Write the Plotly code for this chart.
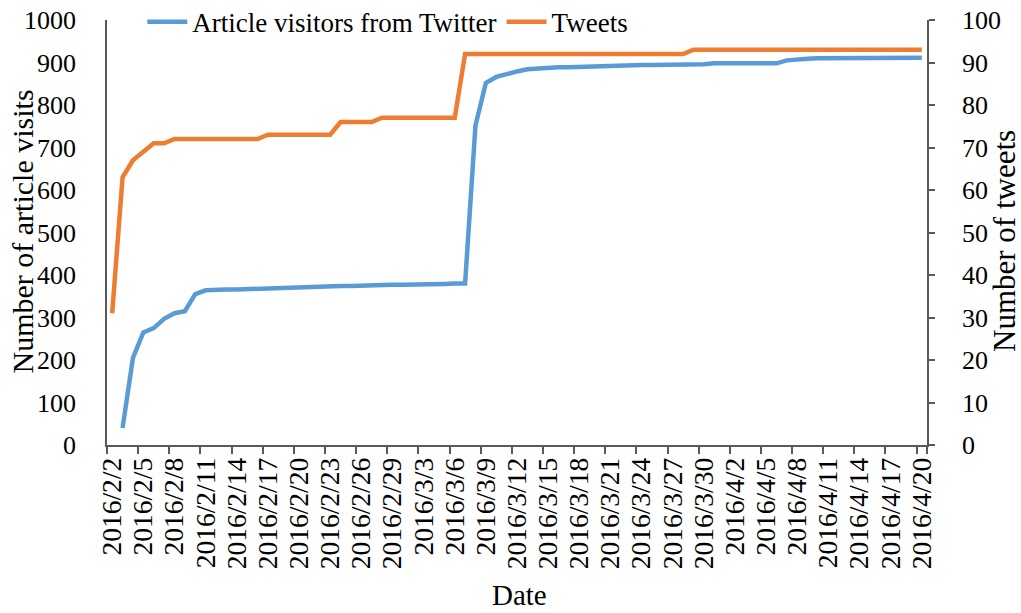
import datetime as dt
import plotly.graph_objects as go

start = dt.date(2016, 2, 2)
dates = [f"{d.year}/{d.month}/{d.day}" for d in (start + dt.timedelta(days=i) for i in range(79))]

visitors = [None, 40, 205, 265, 275, 297, 310, 315, 355, 364,
            366, 366, 366, 367, 368, 368, 369, 370, 372, 372,
            372, 373, 374, 374, 375, 377, 377, 377, 377, 377,
            378, 378, 379, 380, 380, 752, 852, 866, 873, 879,
            884, 886, 888, 889, 889, 890, 890, 891, 892, 893,
            894, 894, 894, 894, 894, 894, 894, 896, 898, 898,
            898, 898, 898, 898, 898, 905, 908, 909, 910, 910,
            910, 910, 910, 910, 910, 911, 911, 911, 911]

tweets = [31, 63, 67, 69, 71, 71, 72, 72, 72, 72,
          72, 72, 72, 72, 72, 73, 73, 73, 73, 73,
          73, 73, 76, 76, 76, 76, 77, 77, 77, 77,
          77, 77, 77, 77, 92, 92, 92, 92, 92, 92,
          92, 92, 92, 92, 92, 92, 92, 92, 92, 92,
          92, 92, 92, 92, 92, 92, 93, 93, 93, 93,
          93, 93, 93, 93, 93, 93, 93, 93, 93, 93,
          93, 93, 93, 93, 93, 93, 93, 93, 93]

tick_labels = dates[::3]

FONT = "Liberation Serif"
AX = "#595959"

fig = go.Figure()
fig.add_trace(go.Scatter(x=dates, y=visitors, name="Article visitors from Twitter",
                         mode="lines", line=dict(color="#5B9BD5", width=4.5), yaxis="y"))
fig.add_trace(go.Scatter(x=dates, y=tweets, name="Tweets",
                         mode="lines", line=dict(color="#ED7D31", width=4.5), yaxis="y2"))

fig.update_layout(
    width=1021, height=613,
    margin=dict(l=107, r=94, t=20, b=168, autoexpand=False),
    plot_bgcolor="white", paper_bgcolor="white",
    font=dict(family=FONT, size=26, color="black"),
    showlegend=True,
    legend=dict(orientation="h", x=0.043, y=0.995, xanchor="left", yanchor="middle",
                bgcolor="rgba(0,0,0,0)", font=dict(size=27), itemwidth=40,
                tracegroupgap=0),
    xaxis=dict(type="category", categoryorder="array", categoryarray=dates,
               range=[-0.5, 78.5], tickmode="array", tickvals=tick_labels,
               tickson="boundaries", ticks="outside", ticklen=7, tickcolor=AX,
               tickwidth=1.5, showline=True, linecolor=AX, linewidth=1.5,
               showgrid=False, tickangle=-90, tickfont=dict(size=27.5),
               zeroline=False, automargin=False),
    yaxis=dict(range=[0, 1000], dtick=100, tick0=0, showline=True, linecolor=AX,
               linewidth=1.5, ticks="", showgrid=False, zeroline=False,
               tickfont=dict(size=26), ticklabelstandoff=24, automargin=False),
    yaxis2=dict(range=[0, 100], dtick=10, tick0=0, overlaying="y", side="right",
                showline=True, linecolor=AX, linewidth=1.5, ticks="outside",
                ticklen=6, tickcolor=AX, tickwidth=1.5, showgrid=False,
                zeroline=False, tickfont=dict(size=26), ticklabelstandoff=22,
                automargin=False),
    annotations=[
        dict(text="Number of article visits", x=22, y=231.5, xref="paper", yref="paper",
             xanchor="center", yanchor="middle",
             showarrow=False, textangle=-90, font=dict(size=30)),
        dict(text="Number of tweets", x=1004, y=241, xref="paper", yref="paper",
             xanchor="center", yanchor="middle",
             showarrow=False, textangle=-90, font=dict(size=31)),
        dict(text="Date", x=519, y=595, xref="paper", yref="paper",
             xanchor="center", yanchor="middle",
             showarrow=False, font=dict(size=29)),
    ],
)

# convert pixel positions of the axis titles into paper coordinates
pl, pr, pt, pb = 107, 927, 20, 445
for a in fig.layout.annotations:
    a.x = (a.x - pl) / (pr - pl)
    a.y = (pb - a.y) / (pb - pt)

fig.write_html("out.html", config={"displayModeBar": False},
               post_script="document.body.style.margin='0';")
